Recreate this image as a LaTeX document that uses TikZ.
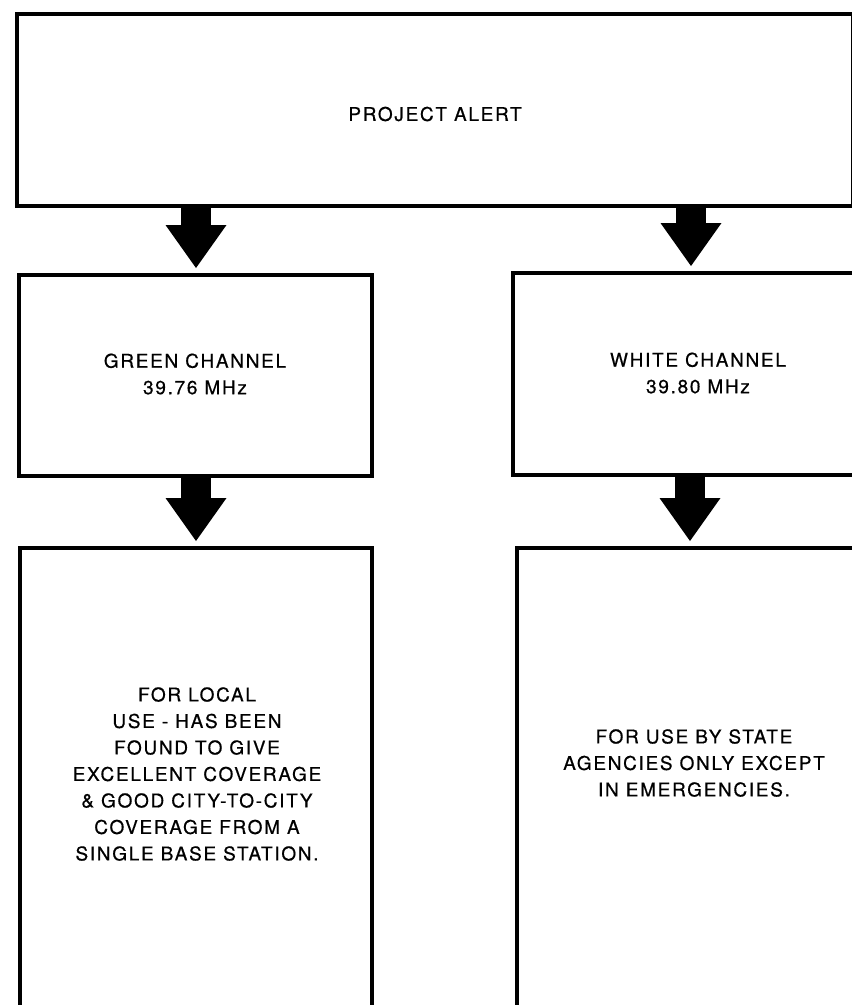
\documentclass[tikz,border=0pt]{standalone}
\usepackage{fontspec}
\setmainfont{TeX Gyre Heros}[LetterSpace=9,FakeBold=0.6]
\usetikzlibrary{arrows.meta}

\newlength{\du}
\setlength{\du}{1pt}

\tikzset{
  boxline/.style={draw=black,line width=4\du,rectangle,inner sep=0pt,line join=miter},
  fatarrow/.style={draw=black,line width=30\du,-{Triangle[length=43pt,width=61pt,line width=0pt]}},
  boxtext/.style={align=center,inner sep=0pt,font=\fontsize{19}{26.5}\selectfont}
}

\begin{document}
\begin{tikzpicture}
\pgftransformxscale{1.000000}
\pgftransformyscale{-1.000000}
\useasboundingbox (0\du,0\du) rectangle (852\du,1005\du);
\clip (0\du,0\du) rectangle (852\du,1005\du);
% top box
\node[boxline,minimum width=836\du,minimum height=192\du] (alert) at (435\du,110\du) {};
\node[boxtext] (alerttxt) at (435\du,114\du) {PROJECT ALERT};
% channel boxes
\node[boxline,minimum width=353\du,minimum height=201\du] (green) at (195.5\du,375.5\du) {};
\node[boxtext] (greentxt) at (195\du,374\du) {GREEN CHANNEL\\39.76 MHz};
\node[boxline,minimum width=370\du,minimum height=202\du] (white) at (698\du,374\du) {};
\node[boxtext] (whitetxt) at (698\du,373\du) {WHITE CHANNEL\\39.80 MHz};
% use boxes
\node[boxline,minimum width=352\du,minimum height=492\du] (local) at (196\du,794\du) {};
\node[boxtext] (localtxt) at (197\du,774\du) {FOR LOCAL\\USE - HAS BEEN\\FOUND TO GIVE\\EXCELLENT COVERAGE\\\& GOOD CITY-TO-CITY\\COVERAGE FROM A\\SINGLE BASE STATION.};
\node[boxline,minimum width=363\du,minimum height=492\du] (state) at (698.5\du,794\du) {};
\node[boxtext] (statetxt) at (694\du,763\du) {FOR USE BY STATE\\AGENCIES ONLY EXCEPT\\IN EMERGENCIES.};
% arrows
\coordinate (gin) at (196\du,268\du);
\coordinate (win) at (691\du,266\du);
\coordinate (lin) at (196\du,541\du);
\coordinate (sin) at (690\du,541\du);
\draw[fatarrow] (alert.south -| gin) -- (gin);
\draw[fatarrow] (alert.south -| win) -- (win);
\draw[fatarrow] (green.south -| lin) -- (lin);
\draw[fatarrow] (white.south -| sin) -- (sin);
\end{tikzpicture}
\end{document}
